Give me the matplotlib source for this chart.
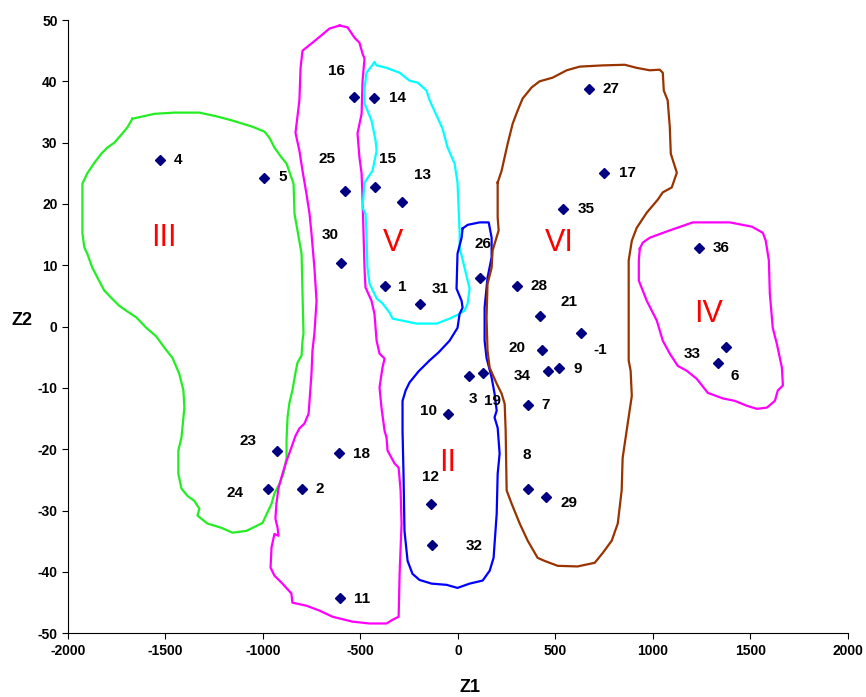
import numpy as np
import matplotlib
matplotlib.use("Agg")
import matplotlib.pyplot as plt

plt.rcParams["font.family"] = ["Liberation Sans", "DejaVu Sans"]
plt.rcParams["axes.unicode_minus"] = False

# observations: label, Z1, Z2
labels = ["4", "5", "16", "14", "25", "15", "13", "30", "1", "31",
          "27", "17", "35", "36", "26", "28", "21", "-1", "20", "33",
          "6", "3", "19", "34", "9", "7", "10", "8", "29", "32",
          "12", "23", "18", "24", "2", "11"]
z1 = [-1530, -996, -535, -430, -578, -426, -285, -600, -376, -195,
      674, 750, 541, 1237, 111, 305, 423, 631, 430, 1374,
      1333, 55, 130, 464, 520, 359, -49, 359, 450, -131,
      -140, -927, -612, -975, -801, -606]
z2 = [27.2, 24.3, 37.5, 37.3, 22.1, 22.8, 20.3, 10.4, 6.6, 3.75,
      38.7, 25.0, 19.2, 12.8, 8.0, 6.6, 1.8, -1.1, -3.75, -3.3,
      -6.0, -8.1, -7.5, -7.2, -6.8, -12.8, -14.3, -26.5, -27.8, -35.6,
      -28.9, -20.3, -20.6, -26.5, -26.5, -44.2]
# label offsets (pixels, right / up)
lab_dx = [18, 19, -17, 23, -18, 13, 20, -11, 18, 20,
          22, 23, 23, 22, 3, 22, 29, 19, -25, -34,
          17, 4, 9, -26, 18, 18, -20, -1, 23, 42,
          0, -29, 23, -33, 18, 22]
lab_dy = [0, 1, 26, 0, 32, 28, 27, 28, -1, 15,
          0, 0, 0, 0, 34, 0, 14, -17, 2, -7,
          -13, -23, -28, -5, -1, 0, 3, 34, -6, -1,
          27, 10, -1, -4, 0, -1]

# hand-drawn cluster outlines (Z1, Z2)
green_x = [-1670, -1557, -1454, -1326, -1239, -1156, -1054, -992, -967, -941,
           -905, -879, -854, -843, -838, -823, -802, -797, -792, -797,
           -802, -823, -833, -849, -864, -874, -879, -879, -895, -915,
           -941, -956, -977, -1002, -1033, -1085, -1156, -1213, -1285, -1336,
           -1326, -1352, -1387, -1418, -1434, -1434, -1418, -1413, -1403, -1408,
           -1429, -1464, -1506, -1547, -1598, -1649, -1701, -1737, -1778, -1814,
           -1849, -1875, -1901, -1916, -1926, -1926, -1926, -1901, -1865, -1829,
           -1798, -1762, -1721, -1695]
green_y = [33.9, 34.7, 34.9, 34.9, 34.3, 33.6, 32.6, 31.8, 30.8, 29.2,
           27.6, 26.6, 24.3, 23.3, 18.4, 15.7, 11.9, 5.4, -1.1, -2.3,
           -4.7, -5.9, -7.5, -10.4, -12.4, -14.8, -18.6, -21.4, -24.0, -25.6,
           -27.2, -28.9, -30.3, -32.0, -32.5, -33.3, -33.6, -32.8, -32.1, -30.8,
           -29.7, -28.4, -27.6, -26.4, -24.0, -20.2, -18.1, -16.5, -13.2, -10.4,
           -7.7, -5.1, -3.4, -1.6, -0.2, 1.5, 2.6, 3.4, 4.7, 5.9,
           8.0, 9.6, 11.9, 12.9, 15.2, 20.6, 23.3, 25.0, 26.7, 28.2,
           29.2, 30.0, 31.5, 32.5]

pink_x = [-607, -566, -530, -505, -489, -479, -489, -494, -515, -505,
          -494, -489, -484, -479, -474, -443, -428, -417, -402, -376,
          -387, -402, -392, -376, -366, -361, -325, -304, -294, -289,
          -299, -304, -335, -366, -453, -541, -643, -710, -777, -849,
          -854, -900, -941, -961, -956, -941, -920, -925, -936, -931,
          -920, -900, -879, -854, -833, -813, -787, -766, -761, -751,
          -746, -736, -725, -736, -751, -761, -777, -797, -813, -833,
          -813, -807, -797, -746, -700, -659]
pink_y = [49.1, 48.8, 47.1, 46.3, 44.5, 43.7, 40.1, 34.7, 31.5, 27.6,
          25.0, 20.6, 15.2, 9.6, 6.4, 4.2, 2.1, -2.3, -4.4, -5.2,
          -6.7, -9.9, -13.2, -17.0, -18.1, -20.2, -22.3, -23.0, -26.7, -32.1,
          -40.3, -47.3, -47.8, -48.4, -48.4, -48.1, -47.3, -46.3, -45.5, -45.0,
          -43.5, -41.9, -40.6, -39.3, -36.0, -33.8, -34.1, -32.8, -31.3, -28.9,
          -26.3, -24.0, -21.9, -19.7, -17.8, -16.6, -15.8, -14.2, -12.1, -7.7,
          -3.9, -1.1, 4.2, 9.6, 15.2, 18.4, 21.7, 25.4, 28.7, 31.6,
          36.9, 42.2, 45.0, 46.3, 47.5, 48.6]

cyan_x = [-428, -469, -479, -479, -443, -422, -417, -438, -479, -489,
          -474, -469, -464, -453, -417, -387, -351, -335, -212, -109,
          -43, 9, 34, 50, 60, 34, 9, 9, -2, -17,
          -53, -79, -109, -145, -161, -207, -248, -299, -366, -417]
cyan_y = [43.1, 41.4, 38.8, 36.4, 33.6, 30.3, 28.7, 25.4, 23.5, 19.4,
          18.4, 15.2, 9.6, 7.0, 4.6, 3.8, 2.3, 1.3, 0.5, 0.5,
          1.3, 2.1, 2.6, 3.8, 6.2, 9.6, 12.9, 15.2, 23.5, 26.6,
          29.2, 32.3, 34.4, 36.9, 38.5, 39.8, 40.1, 41.4, 42.2, 42.6]

blue_x = [24, 50, 111, 158, 173, 173, 152, 137, 137, 147,
          173, 188, 199, 188, 204, 214, 204, 199, 183, 163,
          127, 60, -2, -58, -135, -197, -233, -258, -274, -279,
          -284, -284, -268, -248, -202, -145, -99, -43, -2, 9,
          24, 19, -7, -2, 19]
blue_y = [16.0, 16.6, 17.0, 17.0, 14.5, 11.3, 8.0, 3.1, -2.3, -5.1,
          -8.3, -10.9, -13.7, -14.8, -16.5, -20.7, -24.0, -30.5, -37.7, -39.8,
          -41.4, -41.9, -42.6, -42.1, -41.9, -41.3, -40.3, -38.2, -33.3, -24.0,
          -17.0, -12.1, -10.4, -9.1, -7.3, -5.5, -4.2, -2.3, -0.2, 2.1,
          3.1, 4.2, 6.2, 11.9, 14.5]

brown_x = [204, 224, 255, 281, 306, 332, 378, 419, 486, 558,
           625, 743, 856, 917, 984, 1035, 1051, 1056, 1076, 1087,
           1092, 1123, 1097, 1051, 1025, 969, 917, 892, 876, 876,
           886, 892, 871, 845, 840, 820, 789, 743, 702, 614,
           512, 445, 409, 358, 317, 276, 250, 245, 240, 224,
           199, 163, 152, 147, 152, 173, 178, 209, 204, 204]
brown_y = [23.5, 25.4, 29.8, 33.1, 35.2, 37.2, 39.0, 40.0, 40.6, 41.8,
           42.4, 42.6, 42.7, 42.2, 41.8, 41.9, 41.4, 38.5, 36.9, 32.5,
           28.2, 25.1, 22.7, 21.9, 20.7, 18.6, 16.1, 14.0, 10.8, -5.5,
           -7.2, -11.3, -15.8, -21.4, -26.7, -32.1, -34.9, -36.9, -38.5, -39.1,
           -39.0, -38.2, -37.7, -34.9, -32.1, -28.9, -26.7, -17.0, -12.6, -10.9,
           -9.3, -6.7, -3.9, 1.5, 7.0, 9.6, 12.4, 15.7, 17.8, 20.6]

iv_x = [933, 948, 984, 1087, 1205, 1395, 1508, 1564, 1579, 1595,
        1600, 1615, 1636, 1662, 1667, 1641, 1626, 1585, 1533, 1482,
        1420, 1359, 1282, 1225, 1174, 1128, 1087, 1051, 1020, 969,
        928, 928]
iv_y = [12.7, 13.7, 14.5, 15.7, 17.0, 17.0, 16.3, 15.3, 14.0, 10.8,
        5.4, -0.2, -2.8, -6.7, -9.6, -10.4, -12.1, -13.2, -13.4, -12.9,
        -12.1, -11.7, -10.8, -8.5, -7.2, -6.4, -4.4, -2.3, 1.0, 4.2,
        7.5, 10.8]

clusters = ["III", "V", "VI", "II", "IV"]
cl_x = [-1506, -335, 522, -53, 1286]
cl_y = [14.5, 13.7, 13.7, -22.2, 2.1]

fig = plt.figure(figsize=(8.66, 6.97), dpi=100)
ax = fig.add_axes([0.0785, 0.0914, 0.9005, 0.8799])

outlines = [(green_x, green_y, "#22ee22"),
            (pink_x, pink_y, "#ff00ff"),
            (cyan_x, cyan_y, "#00ffff"),
            (blue_x, blue_y, "#0000ff"),
            (brown_x, brown_y, "#993300"),
            (iv_x, iv_y, "#ff00ff")]
for xs, ys, c in outlines:
    ax.plot(xs + xs[:1], ys + ys[:1], color=c, lw=1.6, solid_joinstyle="round")

ax.plot(z1, z2, linestyle="none", marker="D", markersize=5.5,
        color="#000080", zorder=5)
for lab, x, y, dx, dy in zip(labels, z1, z2, lab_dx, lab_dy):
    ax.annotate(lab, (x, y), xytext=(dx * 0.72, dy * 0.72),
                textcoords="offset points", ha="center", va="center",
                fontsize=11, fontweight="bold")

for name, x, y in zip(clusters, cl_x, cl_y):
    ax.text(x, y, name, color="red", fontsize=22, ha="center", va="center")

ax.set_xlim(-2000, 2000)
ax.set_ylim(-50, 50)
ax.set_xticks(np.arange(-2000, 2001, 500))
ax.set_yticks(np.arange(-50, 51, 10))
ax.spines["top"].set_visible(False)
ax.spines["right"].set_visible(False)
ax.tick_params(direction="out", length=4, labelsize=10)
for t in ax.get_xticklabels() + ax.get_yticklabels():
    t.set_fontweight("bold")
ax.set_xlabel("Z1", fontsize=13, fontweight="bold")
ax.set_ylabel("Z2", fontsize=13, fontweight="bold", rotation=0)
ax.xaxis.set_label_coords(0.515, -0.088)
ax.yaxis.set_label_coords(-0.059, 0.51)
ax.xaxis.label.set_va("center")
ax.yaxis.label.set_va("center")

fig.savefig("out.png", dpi=100)
